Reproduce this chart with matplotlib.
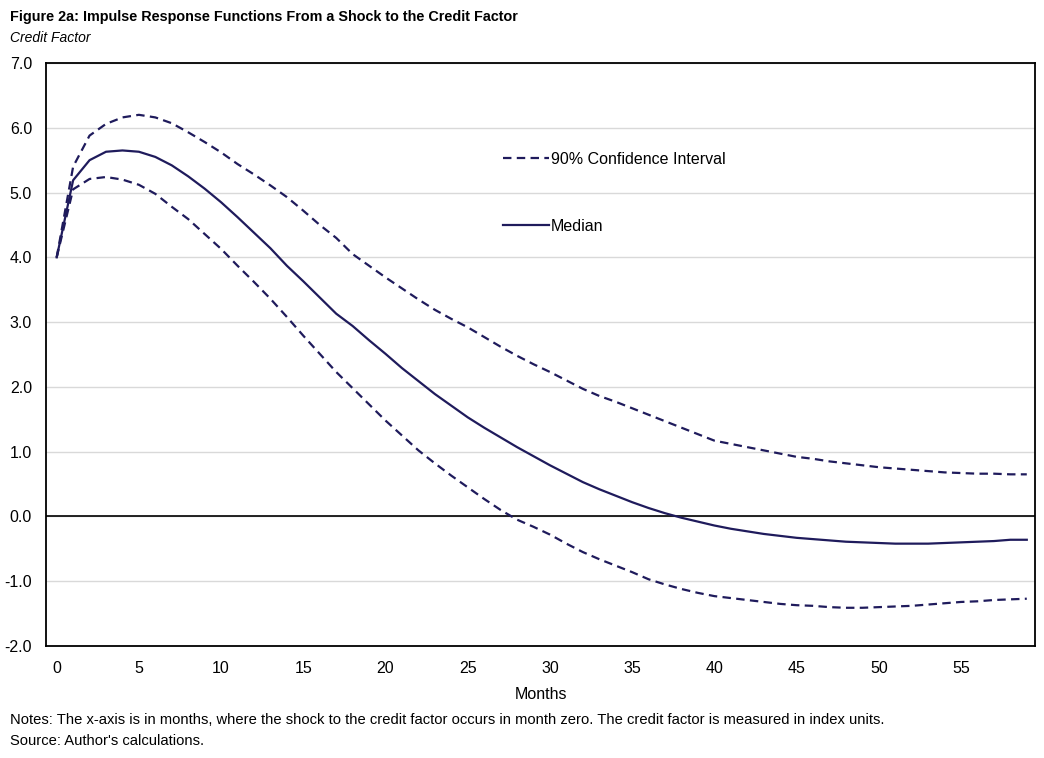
import matplotlib
matplotlib.use("Agg")
import matplotlib.pyplot as plt
from matplotlib.ticker import FuncFormatter, MultipleLocator
from matplotlib.lines import Line2D

months = list(range(60))
median = [4.00, 5.19, 5.50, 5.63, 5.65, 5.63, 5.55, 5.42, 5.25, 5.06,
          4.85, 4.62, 4.38, 4.14, 3.87, 3.63, 3.38, 3.13, 2.94, 2.72,
          2.51, 2.29, 2.09, 1.89, 1.71, 1.53, 1.37, 1.22, 1.07, 0.93,
          0.79, 0.66, 0.53, 0.42, 0.32, 0.22, 0.13, 0.05, -0.02, -0.08,
          -0.14, -0.19, -0.23, -0.27, -0.30, -0.33, -0.35, -0.37, -0.39, -0.40,
          -0.41, -0.42, -0.42, -0.42, -0.41, -0.40, -0.39, -0.38, -0.36, -0.36]
upper = [4.00, 5.40, 5.88, 6.06, 6.16, 6.20, 6.16, 6.07, 5.93, 5.78,
         5.62, 5.44, 5.28, 5.11, 4.93, 4.72, 4.50, 4.30, 4.05, 3.87,
         3.69, 3.52, 3.35, 3.19, 3.05, 2.92, 2.77, 2.62, 2.48, 2.35,
         2.23, 2.10, 1.97, 1.86, 1.77, 1.67, 1.57, 1.47, 1.37, 1.27,
         1.17, 1.12, 1.07, 1.02, 0.97, 0.92, 0.89, 0.85, 0.82, 0.79,
         0.76, 0.74, 0.72, 0.70, 0.68, 0.67, 0.66, 0.66, 0.65, 0.65]
lower = [4.00, 5.05, 5.21, 5.24, 5.20, 5.12, 4.98, 4.78, 4.59, 4.36,
         4.13, 3.87, 3.62, 3.36, 3.08, 2.79, 2.51, 2.23, 1.98, 1.73,
         1.48, 1.25, 1.02, 0.82, 0.63, 0.45, 0.27, 0.10, -0.05, -0.16,
         -0.28, -0.42, -0.55, -0.66, -0.76, -0.86, -0.97, -1.05, -1.12, -1.18,
         -1.23, -1.26, -1.29, -1.32, -1.35, -1.37, -1.38, -1.40, -1.41, -1.41,
         -1.40, -1.39, -1.38, -1.36, -1.34, -1.32, -1.31, -1.29, -1.28, -1.27]

title = "Figure 2a: Impulse Response Functions From a Shock to the Credit Factor"
subtitle = "Credit Factor"
xlabel = "Months"
notes = "Notes: The x-axis is in months, where the shock to the credit factor occurs in month zero. The credit factor is measured in index units."
source = "Source: Author's calculations."
ci_label = "90% Confidence Interval"
med_label = "Median"

navy = "#1f1b5c"
fam = ["Liberation Sans Narrow", "Liberation Sans", "DejaVu Sans"]
plt.rcParams['font.family'] = fam

fig = plt.figure(figsize=(10.44, 7.58), dpi=100)
ax = fig.add_axes([46/1044, 1-646/758, (1035-46)/1044, (646-63)/758])

dash = (0, (3.8, 2.4))
ax.plot(months, upper, color=navy, lw=1.6, linestyle=dash, zorder=3)
ax.plot(months, lower, color=navy, lw=1.6, linestyle=dash, zorder=3)
ax.plot(months, median, color=navy, lw=1.6, zorder=4)

ax.set_xlim(-0.65, 59.5)
ax.set_ylim(-2.0, 7.0)
ax.yaxis.set_major_locator(MultipleLocator(1.0))
ax.yaxis.set_major_formatter(FuncFormatter(lambda v, p: f"{v:.1f}"))
ax.set_xticks(list(range(0, 60, 5)))
ax.grid(axis='y', color='#d9d9d9', lw=1.0, zorder=0)
ax.axhline(0, color='black', lw=1.2, zorder=2)
for s in ax.spines.values():
    s.set_color('black')
    s.set_linewidth(1.3)
ax.tick_params(length=0, labelsize=11.5, colors='#000000')
ax.tick_params(axis='x', pad=11)
ax.tick_params(axis='y', pad=10)
ax.set_xlabel(xlabel, fontsize=11.5, labelpad=8)

handles = [Line2D([], [], color=navy, lw=1.6, linestyle=dash),
           Line2D([], [], color=navy, lw=1.6)]
leg = ax.legend(handles, [ci_label, med_label], loc='upper left',
                bbox_to_anchor=(503/1044, 1-152/758), bbox_transform=fig.transFigure,
                frameon=False, fontsize=11.5, handlelength=2.9, handletextpad=0.1,
                labelspacing=3.25, borderpad=0, borderaxespad=0)

fig.text(10/1044, 1-17/758, title, fontsize=10.4, fontweight='bold', va='center', ha='left')
fig.text(10/1044, 1-38/758, subtitle, fontsize=10, style='italic', va='center', ha='left')
fig.text(10/1044, 1-720/758, notes, fontsize=10.6, va='center', ha='left')
fig.text(10/1044, 1-741/758, source, fontsize=10.6, va='center', ha='left')

fig.savefig("out.png", dpi=100)
